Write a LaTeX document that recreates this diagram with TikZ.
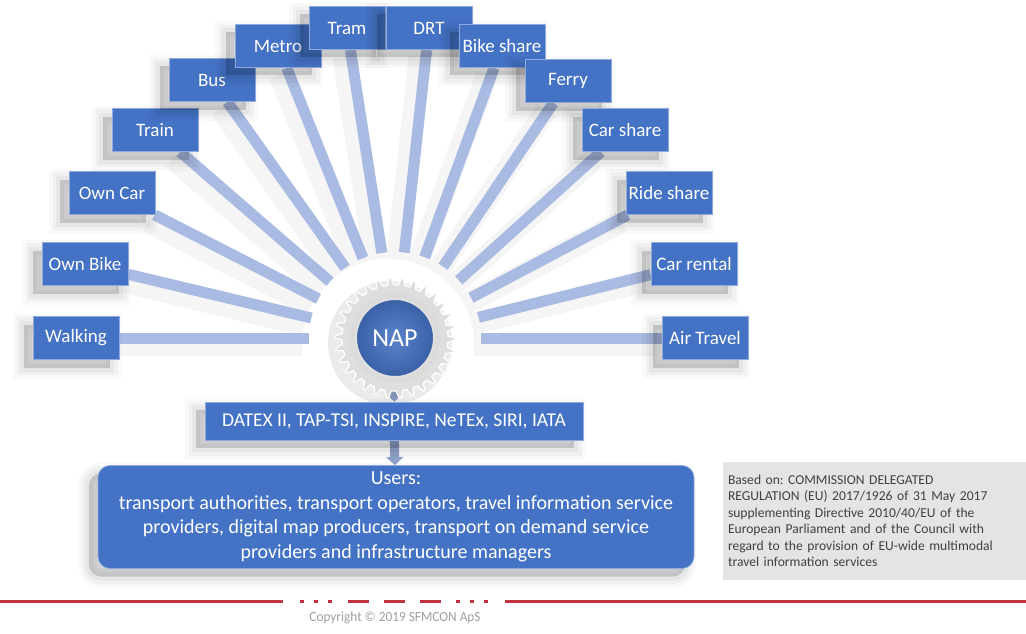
\documentclass[tikz,border=0pt]{standalone}
\usepackage{fontspec}
\setmainfont{Carlito}
\usetikzlibrary{shadows,arrows.meta}
\definecolor{boxblue}{HTML}{4472C4}
\definecolor{spokec}{HTML}{A9BBE2}
\definecolor{arrowc}{HTML}{8EA1C8}
\definecolor{notegray}{HTML}{E4E4E4}
\definecolor{redline}{HTML}{C3323F}
\definecolor{geargray}{HTML}{DEDEDE}
\pgfdeclarelayer{bg}
\pgfdeclarelayer{mid}
\pgfsetlayers{bg,mid,main}
\frenchspacing
\begin{document}
\begin{tikzpicture}[x=1pt,y=-1pt,
  softshadow/.style={
    general shadow={fill=black, draw=black, line width=22pt, opacity=0.025, shadow xshift=-9pt, shadow yshift=-8pt},
    general shadow={fill=black, draw=black, line width=15pt, opacity=0.035, shadow xshift=-9pt, shadow yshift=-8pt},
    general shadow={fill=black, draw=black, line width=8pt, opacity=0.045, shadow xshift=-9pt, shadow yshift=-8pt},
    general shadow={fill=black, opacity=0.06, shadow xshift=-9pt, shadow yshift=-8pt}},
  mode/.style={fill=boxblue, draw=boxblue!60!white, line width=0.8pt, text=white,
    font=\fontsize{19}{21}\selectfont, minimum height=43pt, minimum width=86pt, inner sep=0pt, softshadow},
  spk/.style={line width=11pt, spokec, shorten >=46pt},
  spkshadow/.style={line width=22pt, black, opacity=0.04, shorten >=46pt},
  arr/.style={line width=9pt, arrowc, -{Triangle[width=17pt,length=8pt]}},
  bigbox/.style={fill=boxblue, draw=boxblue!60!white, line width=0.8pt, text=white, softshadow},
  redl/.style={line width=3pt, redline},
  redd/.style={fill=redline}
]
\useasboundingbox (0,0) rectangle (1026,634);

% centre
\coordinate (c) at (395,338);
\node[circle, minimum size=78pt, shading=radial, inner color=boxblue!88!white, outer color=boxblue!85!black,
  draw=gray!25, line width=2pt, text=white, font=\fontsize{26}{28}\selectfont] (nap) at (c) {NAP};

% mode boxes
\node[mode] (walk)  at (76,338)  {Walking};
\node[mode] (obike) at (85,264)  {Own Bike};
\node[mode] (ocar)  at (112,193) {Own Car};
\node[mode] (train) at (155,130) {Train};
\node[mode] (bus)   at (212,80)  {Bus};
\node[mode] (metro) at (278,46)  {Metro};
\node[mode, minimum width=76pt] (tram) at (347,28) {Tram};
\node[mode] (drt)   at (429,28)  {DRT};
\node[mode] (bshare) at (502,46) {Bike share};
\node[mode] (ferry) at (568,81)  {Ferry};
\node[mode] (cshare) at (625,130) {Car share};
\node[mode] (rshare) at (669,193) {Ride share};
\node[mode] (crent) at (694,264) {Car rental};
\node[mode] (air)   at (705,338) {Air Travel};

% spokes
\begin{pgfonlayer}{bg}
  \foreach \n in {walk,obike,ocar,train,bus,metro,tram,drt,bshare,ferry,cshare,rshare,crent,air}{
    \draw[spkshadow, transform canvas={xshift=-7pt,yshift=-7pt}] (\n) -- (nap);
  }
  \foreach \n in {walk,obike,ocar,train,bus,metro,tram,drt,bshare,ferry,cshare,rshare,crent,air}{
    \draw[spk] (\n) -- (nap);
  }
\end{pgfonlayer}

% gear
\begin{pgfonlayer}{mid}
  \fill[black, opacity=0.08, transform canvas={xshift=-5pt,yshift=-5pt}] (c) circle (62);
  \filldraw[fill=geargray, draw=white, line width=1.2pt]
    ([shift={(c)}]0:60) \foreach \i in {0,...,29}{
      -- ([shift={(c)}]{\i*12+2}:60) -- ([shift={(c)}]{\i*12+5}:53)
      -- ([shift={(c)}]{\i*12+10}:53) -- ([shift={(c)}]{\i*12+12}:60)} -- cycle;
  \fill[gray!28] (c) circle (45);
\end{pgfonlayer}

% standards and users
\node[bigbox, minimum width=378pt, minimum height=38pt, font=\fontsize{19.5}{21}\selectfont]
  (datex) at (394,421) {DATEX II, TAP-TSI, INSPIRE, NeTEx, SIRI, IATA};
\node[bigbox, rounded corners=12pt, minimum width=596pt, minimum height=103pt, align=center,
  font=\fontsize{20}{24.5}\selectfont] (users) at (396,517)
  {Users:\\transport authorities, transport operators, travel information service\\
   providers, digital map producers, transport on demand service\\
   providers and infrastructure managers};

\begin{pgfonlayer}{bg}
  \draw[arr] (nap) -- (datex);
  \draw[arr] (datex) -- (users);
\end{pgfonlayer}

% note
\node[fill=notegray, minimum width=303pt, minimum height=118pt, text width=293pt, align=left,
  inner sep=5pt, font=\fontsize{13.6}{16.5}\selectfont, text=black!75] (note) at (874.5,521)
  {Based on: COMMISSION DELEGATED\\
   REGULATION (EU) 2017/1926 of 31 May 2017\\
   supplementing Directive 2010/40/EU of the\\
   European Parliament and of the Council with\\
   regard to the provision of EU-wide multimodal\\
   travel information services};

% footer
\draw[redl] (0,601) -- (283,601);
\draw[redl] (505,601) -- (1026,601);
\foreach \x in {302,316,330,458,472,486}{ \fill[redd] (\x-2,599.5) rectangle (\x+2,602.5); }
\foreach \a/\b in {348/369,384/405,420/441}{ \fill[redd] (\a,599.5) rectangle (\b,602.5); }
\node[text=gray!75, font=\fontsize{14}{16}\selectfont] (copy) at (395,618)
  {\scalebox{0.95}[1.0]{Copyright \textcopyright{} 2019 SFMCON ApS}};
\end{tikzpicture}
\end{document}
